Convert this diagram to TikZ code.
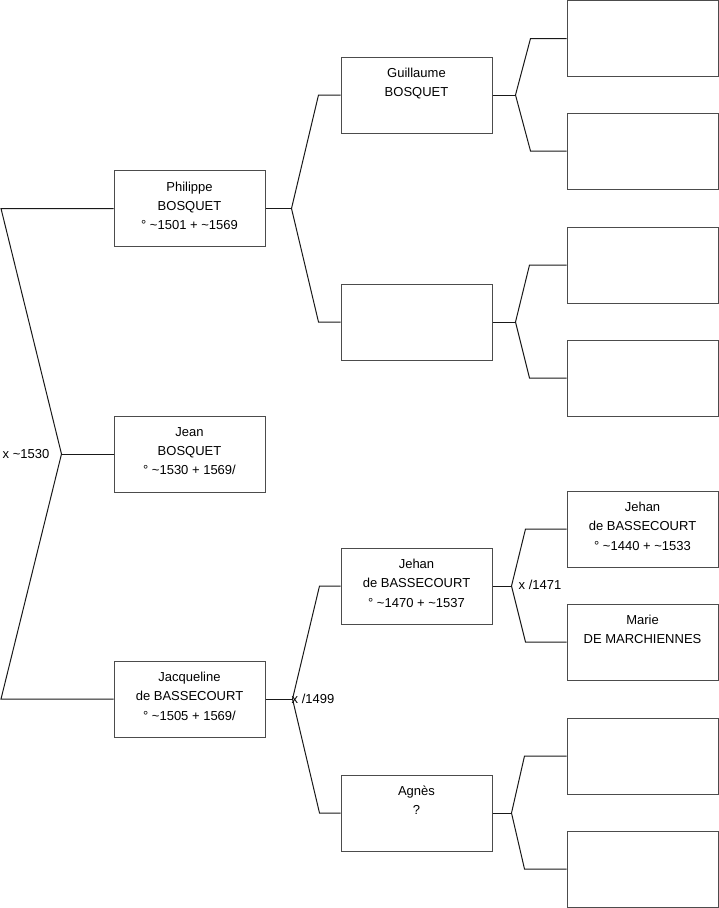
\documentclass[tikz,border=0pt]{standalone}
\usepackage{fontspec}
\setmainfont{Liberation Sans}
\usetikzlibrary{calc}

\begin{document}
\begin{tikzpicture}[x=1pt,y=-1pt,
    personne/.style={draw=black!70, line width=1pt, minimum width=151pt, minimum height=76pt,
        inner sep=0pt, align=center, font=\fontsize{13}{19.3}\selectfont,
        execute at begin node=\strut, execute at end node=\strut},
    lien/.style={black!90, line width=1pt},
    union/.style={inner sep=0pt, font=\fontsize{13}{15}\selectfont}]
        \useasboundingbox (0,0) rectangle (719,908);

        % Gen 1
        \node[personne] (s1) at (189.5,454) {Jean\\BOSQUET\\° \textasciitilde1530 + 1569/};

        % Gen 2
        \node[personne] (s2) at (189.5,208.5) {Philippe\\BOSQUET\\° \textasciitilde1501 + \textasciitilde1569};
        \node[personne] (s3) at (189.5,699) {Jacqueline\\de BASSECOURT\\° \textasciitilde1505 + 1569/};

        % Gen 3
        \node[personne] (s4) at (416.5,95) {Guillaume\\BOSQUET\\\mbox{}};
        \node[personne] (s5) at (416.5,322) {};
        \node[personne] (s6) at (416.5,586) {Jehan\\de BASSECOURT\\° \textasciitilde1470 + \textasciitilde1537};
        \node[personne] (s7) at (416.5,813) {Agnès\\?\\\mbox{}};

        % Gen 4
        \node[personne] (s8) at (642.5,38.5) {};
        \node[personne] (s9) at (642.5,151) {};
        \node[personne] (s10) at (642.5,265) {};
        \node[personne] (s11) at (642.5,378) {};
        \node[personne] (s12) at (642.5,529) {Jehan\\de BASSECOURT\\° \textasciitilde1440 + \textasciitilde1533};
        \node[personne] (s13) at (642.5,642) {Marie\\DE MARCHIENNES\\\mbox{}};
        \node[personne] (s14) at (642.5,756) {};
        \node[personne] (s15) at (642.5,869) {};

        % Parents of Jean
        \coordinate (j1) at ($(s1.west)+(-52,0)$);
        \coordinate (c1) at (1,454);
        \draw[lien] (s2.west) -- (s2.west -| c1) -- (j1) -- (s3.west -| c1) -- (s3.west);
        \draw[lien] (j1) -- (s1.west);
        \node[union, anchor=east] (u1) at ($(j1)+(-12,0)$) {x \textasciitilde1530};

        % Other couples: child/father/mother/junction/corner
        \foreach \e/\p/\m/\dj/\dc in {s2/s4/s5/26/53, s3/s6/s7/27/54, s4/s8/s9/23/38,
                s5/s10/s11/23/37, s6/s12/s13/19/33, s7/s14/s15/19/32} {
            \coordinate (j\e) at ($(\e.east)+(\dj,0)$);
            \coordinate (c\e) at ($(\e.east)+(\dc,0)$);
            \draw[lien] (\e.east) -- (j\e);
            \draw[lien] (\p.west) -- (\p.west -| c\e) -- (j\e) -- (\m.west -| c\e) -- (\m.west);
        }

        \node[union, anchor=west] (u3) at ($(js3)+(-1,0)$) {x /1499};
        \node[union, anchor=west] (u6) at ($(js6)+(7,-1)$) {x /1471};
    \end{tikzpicture}
\end{document}
